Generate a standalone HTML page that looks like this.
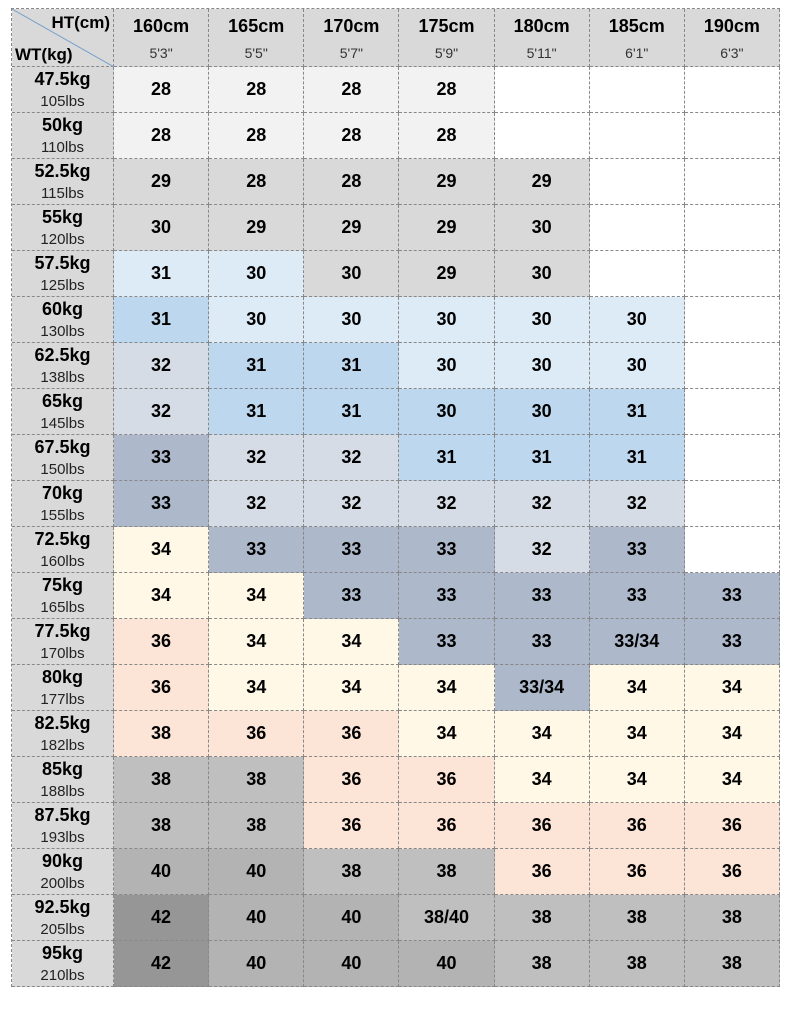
<!DOCTYPE html>
<html><head><meta charset="utf-8"><style>
*{margin:0;padding:0;box-sizing:border-box}
body{width:790px;height:1009px;background:#fff;font-family:"Liberation Sans",Arial,sans-serif;position:relative;overflow:hidden}
.g{position:absolute;left:11px;top:8px;display:grid;grid-template-columns:102px repeat(7,95.15px);grid-template-rows:58px repeat(20,46px);border-left:1px dashed #888;border-top:1px dashed #888}
.g>div{border-right:1px dashed #888;border-bottom:1px dashed #888;display:flex;align-items:center;justify-content:center;font-weight:bold;font-size:18px;color:#000}
.h{background:#d9d9d9;flex-direction:column}
.h b{font-size:18px;margin-top:2px}
.h i{font-style:normal;font-weight:normal;font-size:14px;color:#333;margin-top:8px}
.w1{background:#d9d9d9;flex-direction:column;line-height:1}
.w1 b{font-size:18px}
.w1 i{font-style:normal;font-weight:normal;font-size:15px;color:#222;margin-top:6px}
.a{background:#f2f2f2}.G{background:#d9d9d9}.l{background:#ddebf7}.m{background:#bdd7ee}.s{background:#d6dce5}.d{background:#adb9ca}.c{background:#fff8e6}.p{background:#fce4d6}.r{background:#bfbfbf}.e{background:#b3b3b3}.k{background:#969696}.W{background:#fff}
.corner{position:relative;background:#d9d9d9}
.corner span{position:absolute;font-weight:bold;font-size:17px}
</style></head><body>
<div class="g">
<div class="corner"><svg width="102" height="58" style="position:absolute;left:0;top:0"><line x1="0" y1="0" x2="102" y2="58" stroke="#7ba3cc" stroke-width="1"/></svg><span style="right:3px;top:4px">HT(cm)</span><span style="left:3px;top:36px">WT(kg)</span></div>
<div class="h"><b>160cm</b><i>5'3"</i></div><div class="h"><b>165cm</b><i>5'5"</i></div><div class="h"><b>170cm</b><i>5'7"</i></div><div class="h"><b>175cm</b><i>5'9"</i></div><div class="h"><b>180cm</b><i>5'11"</i></div><div class="h"><b>185cm</b><i>6'1"</i></div><div class="h"><b>190cm</b><i>6'3"</i></div>

<div class="w1"><b>47.5kg</b><i>105lbs</i></div><div class="a">28</div><div class="a">28</div><div class="a">28</div><div class="a">28</div><div class="W"></div><div class="W"></div><div class="W"></div>
<div class="w1"><b>50kg</b><i>110lbs</i></div><div class="a">28</div><div class="a">28</div><div class="a">28</div><div class="a">28</div><div class="W"></div><div class="W"></div><div class="W"></div>
<div class="w1"><b>52.5kg</b><i>115lbs</i></div><div class="G">29</div><div class="G">28</div><div class="G">28</div><div class="G">29</div><div class="G">29</div><div class="W"></div><div class="W"></div>
<div class="w1"><b>55kg</b><i>120lbs</i></div><div class="G">30</div><div class="G">29</div><div class="G">29</div><div class="G">29</div><div class="G">30</div><div class="W"></div><div class="W"></div>
<div class="w1"><b>57.5kg</b><i>125lbs</i></div><div class="l">31</div><div class="l">30</div><div class="G">30</div><div class="G">29</div><div class="G">30</div><div class="W"></div><div class="W"></div>
<div class="w1"><b>60kg</b><i>130lbs</i></div><div class="m">31</div><div class="l">30</div><div class="l">30</div><div class="l">30</div><div class="l">30</div><div class="l">30</div><div class="W"></div>
<div class="w1"><b>62.5kg</b><i>138lbs</i></div><div class="s">32</div><div class="m">31</div><div class="m">31</div><div class="l">30</div><div class="l">30</div><div class="l">30</div><div class="W"></div>
<div class="w1"><b>65kg</b><i>145lbs</i></div><div class="s">32</div><div class="m">31</div><div class="m">31</div><div class="m">30</div><div class="m">30</div><div class="m">31</div><div class="W"></div>
<div class="w1"><b>67.5kg</b><i>150lbs</i></div><div class="d">33</div><div class="s">32</div><div class="s">32</div><div class="m">31</div><div class="m">31</div><div class="m">31</div><div class="W"></div>
<div class="w1"><b>70kg</b><i>155lbs</i></div><div class="d">33</div><div class="s">32</div><div class="s">32</div><div class="s">32</div><div class="s">32</div><div class="s">32</div><div class="W"></div>
<div class="w1"><b>72.5kg</b><i>160lbs</i></div><div class="c">34</div><div class="d">33</div><div class="d">33</div><div class="d">33</div><div class="s">32</div><div class="d">33</div><div class="W"></div>
<div class="w1"><b>75kg</b><i>165lbs</i></div><div class="c">34</div><div class="c">34</div><div class="d">33</div><div class="d">33</div><div class="d">33</div><div class="d">33</div><div class="d">33</div>
<div class="w1"><b>77.5kg</b><i>170lbs</i></div><div class="p">36</div><div class="c">34</div><div class="c">34</div><div class="d">33</div><div class="d">33</div><div class="d">33/34</div><div class="d">33</div>
<div class="w1"><b>80kg</b><i>177lbs</i></div><div class="p">36</div><div class="c">34</div><div class="c">34</div><div class="c">34</div><div class="d">33/34</div><div class="c">34</div><div class="c">34</div>
<div class="w1"><b>82.5kg</b><i>182lbs</i></div><div class="p">38</div><div class="p">36</div><div class="p">36</div><div class="c">34</div><div class="c">34</div><div class="c">34</div><div class="c">34</div>
<div class="w1"><b>85kg</b><i>188lbs</i></div><div class="r">38</div><div class="r">38</div><div class="p">36</div><div class="p">36</div><div class="c">34</div><div class="c">34</div><div class="c">34</div>
<div class="w1"><b>87.5kg</b><i>193lbs</i></div><div class="r">38</div><div class="r">38</div><div class="p">36</div><div class="p">36</div><div class="p">36</div><div class="p">36</div><div class="p">36</div>
<div class="w1"><b>90kg</b><i>200lbs</i></div><div class="e">40</div><div class="e">40</div><div class="r">38</div><div class="r">38</div><div class="p">36</div><div class="p">36</div><div class="p">36</div>
<div class="w1"><b>92.5kg</b><i>205lbs</i></div><div class="k">42</div><div class="e">40</div><div class="e">40</div><div class="r">38/40</div><div class="r">38</div><div class="r">38</div><div class="r">38</div>
<div class="w1"><b>95kg</b><i>210lbs</i></div><div class="k">42</div><div class="e">40</div><div class="e">40</div><div class="e">40</div><div class="r">38</div><div class="r">38</div><div class="r">38</div>
</div>
</body></html>
